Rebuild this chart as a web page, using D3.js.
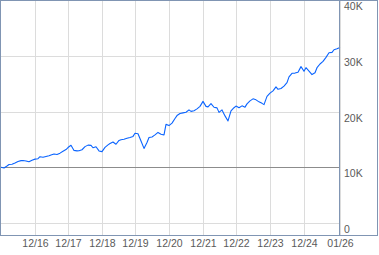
<!DOCTYPE html>
<html>
<head>
<meta charset="utf-8">
<script src="https://cdn.jsdelivr.net/npm/d3@7"></script>
<style>
  body { margin: 0; background: #fff; }
  svg { display: block; font-family: Arial, "Liberation Sans", sans-serif; }
</style>
</head>
<body>
<svg id="chart" width="379" height="255"></svg>
<script>
// Monthly values, Dec 2015 .. Jan 2026 (growth of 10K).
const startMonth = '2015-12';
const values = [
  10.0, 9.87, 10.23, 10.5, 10.54, 10.77, 11.04, 11.19, 11.22, 11.13, 10.99, 11.26,
  11.46, 11.53, 11.89, 11.8, 11.94, 12.07, 12.21, 12.37, 12.3, 12.53, 12.87, 13.18,
  13.54, 13.95, 13.02, 12.93, 12.96, 13.14, 13.7, 13.97, 13.92, 13.5, 13.68, 12.93,
  12.8, 13.56, 14.01, 14.26, 14.54, 14.13, 14.81, 14.94, 15.01, 15.19, 15.34, 15.53,
  16.09, 16.02, 14.72, 13.38, 14.45, 15.34, 15.44, 15.8, 16.25, 15.93, 15.8, 17.69,
  17.47, 17.92, 18.75, 19.27, 19.65, 19.76, 19.86, 20.29, 20.02, 20.15, 20.47, 20.92,
  21.82, 20.92, 20.83, 21.42, 20.76, 20.65, 19.84, 20.29, 19.21, 18.31, 20.11, 20.68,
  20.97, 20.68, 21.01, 20.78, 21.37, 21.91, 22.27, 22.09, 21.73, 21.46, 21.23, 22.72,
  23.29, 23.71, 24.42, 23.98, 24.12, 24.55, 25.18, 26.22, 26.85, 26.89, 27.03, 28.05,
  27.21, 27.86, 27.26, 26.62, 26.94, 27.86, 28.52, 28.99, 29.71, 30.53, 30.6, 31.07,
  31.25, 31.49
];
const xTicks = ['2016-12', '2017-12', '2018-12', '2019-12', '2020-12', '2021-12',
                '2022-12', '2023-12', '2024-12', '2026-01'];
const yTicks = [0, 10000, 20000, 30000, 40000];
const baseline = 10000;

const parseMonth = d3.timeParse('%Y-%m');
const first = parseMonth(startMonth);
const data = values.map((v, i) => ({date: d3.timeMonth.offset(first, i), value: v * 1000}));

const svg = d3.select('#chart');
const plotRight = 339;
const plotBottom = 235;

const x = d3.scaleTime()
  .domain([first, parseMonth('2026-01')])
  .rangeRound([1, 340]);
const y = d3.scaleLinear().domain([0, 40000]).range([223, 0]);
const yRound = y.copy().interpolate(d3.interpolateRound);

// Vertical grid + month labels.
const xAxis = svg.append('g')
  .attr('transform', `translate(0, ${plotBottom})`)
  .call(d3.axisBottom(x)
    .tickValues(xTicks.map(parseMonth))
    .tickSize(-plotBottom)
    .tickSizeOuter(0)
    .tickPadding(3)
    .tickFormat(d3.timeFormat('%m/%y')));
xAxis.select('.domain').remove();
xAxis.selectAll('line').attr('stroke', '#dcdcdc');
xAxis.selectAll('text').attr('fill', '#5a5a5a').attr('font-size', 10.5).attr('dy', '0.85em');

// Horizontal grid + value labels on the right.
const yAxis = svg.append('g')
  .attr('transform', `translate(${plotRight}, 0)`)
  .call(d3.axisRight(yRound)
    .tickValues(yTicks)
    .tickSize(-plotRight)
    .tickSizeOuter(0)
    .tickPadding(5)
    .tickFormat(d => d === 0 ? '0' : d / 1000 + 'K'));
yAxis.select('.domain').remove();
yAxis.selectAll('line').attr('stroke', '#dcdcdc');
yAxis.selectAll('text').attr('fill', '#5a5a5a').attr('font-size', 10.5).attr('dy', '0.95em');

// Start value line.
svg.append('line')
  .attr('x1', 0).attr('x2', plotRight)
  .attr('y1', yRound(baseline) + 0.5).attr('y2', yRound(baseline) + 0.5)
  .attr('stroke', '#8c8c8c');

// Series.
const line = d3.line()
  .x(d => x(d.date))
  .y(d => y(d.value));
svg.append('path').datum(data)
  .attr('d', line)
  .attr('fill', 'none')
  .attr('stroke', '#0a64ff')
  .attr('stroke-width', 1.1)
  .attr('stroke-linejoin', 'round');

// Frame and right axis line.
svg.append('line')
  .attr('x1', plotRight + 0.5).attr('x2', plotRight + 0.5)
  .attr('y1', 0).attr('y2', plotBottom)
  .attr('stroke', '#8095b3');
svg.append('rect')
  .attr('x', 0.5).attr('y', 0.5)
  .attr('width', 377).attr('height', plotBottom)
  .attr('fill', 'none')
  .attr('stroke', '#8095b3');
</script>
</body>
</html>
